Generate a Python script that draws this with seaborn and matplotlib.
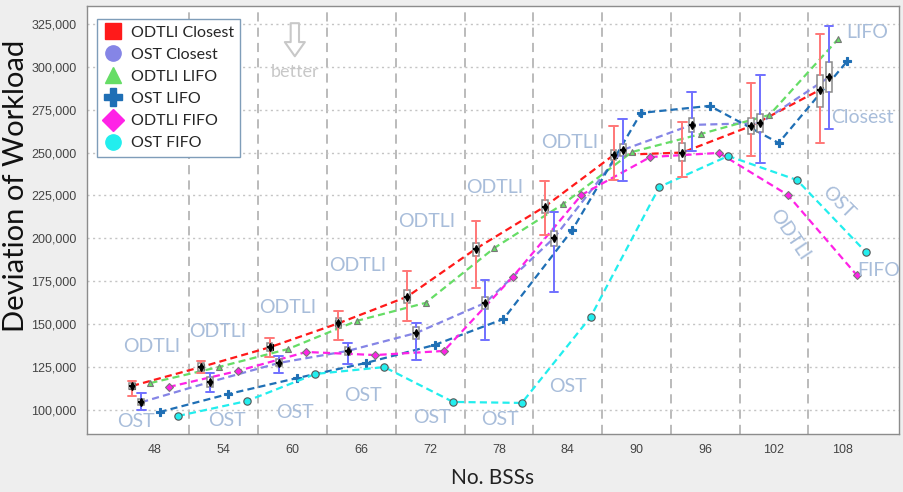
import numpy as np
import pandas as pd
import matplotlib.pyplot as plt
import seaborn as sns
from matplotlib.lines import Line2D

# number of BSSs (x categories)
bss = [48, 54, 60, 66, 72, 78, 84, 90, 96, 102, 108]
series = ["ODTLI Closest", "OST Closest", "ODTLI LIFO", "OST LIFO", "ODTLI FIFO", "OST FIFO"]

odtli_closest = [114000, 125000, 136500, 150500, 166000, 194000, 218500, 248500, 250000, 265500, 286500]
ost_closest = [104500, 116300, 127400, 134400, 144900, 162400, 200200, 251500, 266100, 267200, 294000]
odtli_lifo = [115700, 125100, 135500, 151900, 162400, 194400, 220000, 250300, 260800, 271900, 316200]
ost_lifo = [98800, 109300, 118600, 127400, 137900, 153000, 204900, 273100, 277200, 255600, 303400]
odtli_fifo = [113400, 122700, 133800, 132000, 134400, 177500, 225300, 247400, 249800, 225300, 178700]
ost_fifo = [96500, 105200, 121000, 125000, 104700, 104100, 154200, 230000, 248000, 234000, 192100]

# spread of the "Closest" runs (whisker ends and box quartiles)
odtli_closest_lo = [108200, 121600, 130900, 140800, 151900, 171100, 202000, 234000, 235800, 248000, 255600]
odtli_closest_hi = [116900, 128600, 142000, 157700, 181000, 210100, 233700, 265500, 267800, 290600, 319100]
odtli_closest_q1 = [112500, 123000, 134500, 148000, 162500, 190000, 214500, 245500, 245000, 261000, 276500]
odtli_closest_q3 = [116000, 127500, 139000, 153500, 170000, 197500, 222500, 251500, 255500, 270000, 295000]
ost_closest_lo = [100000, 110500, 121600, 126800, 129100, 140800, 168800, 233500, 250900, 243900, 263700]
ost_closest_hi = [109900, 121600, 131500, 139000, 150700, 175800, 215400, 269600, 285300, 295200, 323800]
ost_closest_q1 = [103000, 113500, 125500, 132000, 141500, 159000, 195500, 248000, 262000, 262000, 285500]
ost_closest_q3 = [106500, 119000, 129500, 136500, 148500, 166000, 204500, 255000, 270000, 272500, 303000]

values = [odtli_closest, ost_closest, odtli_lifo, ost_lifo, odtli_fifo, ost_fifo]
offsets = [-2.0, -1.2, -0.4, 0.4, 1.2, 2.0]
colors = ["#FF1A1A", "#8585E6", "#66DD66", "#1F6FB5", "#FF22E6", "#22EEEE"]
markers = ["s", "o", "^", "P", "D", "o"]

rows = []
for name, vals, off in zip(series, values, offsets):
    for b, v in zip(bss, vals):
        rows.append({"series": name, "pos": b + off, "value": v})
df = pd.DataFrame(rows)

sns.set_theme(style="white")
plt.rcParams["font.family"] = ["Lato", "DejaVu Sans"]

fig = plt.figure(figsize=(9.04, 4.92), dpi=100, facecolor="#EEEEEE")
ax = fig.add_axes([87 / 904, 58 / 492, 812 / 904, 428 / 492])
ax.set_facecolor("white")

sns.lineplot(
    data=df, x="pos", y="value", hue="series", style="series",
    hue_order=series, style_order=series,
    palette=dict(zip(series, colors)),
    markers=dict(zip(series, markers)),
    dashes={s: (3.2, 1.9) for s in series},
    linewidth=1.6, sort=False, legend=False, ax=ax,
)
msizes = [4, 4, 4.5, 6, 4.3, 5.3]
medges = ["black", "black", "#777777", "#1F6FB5", "#777777", "#555555"]
for line, ms, me in zip(ax.lines, msizes, medges):
    line.set_markersize(ms)
    line.set_markeredgecolor(me)
    line.set_markeredgewidth(0.8)

# small boxes + whiskers for the two "Closest" series
for vals, lo, hi, q1, q3, off, wc in [
    (odtli_closest, odtli_closest_lo, odtli_closest_hi, odtli_closest_q1, odtli_closest_q3, -2.0, "#FF7777"),
    (ost_closest, ost_closest_lo, ost_closest_hi, ost_closest_q1, ost_closest_q3, -1.2, "#7070FF"),
]:
    stats = [dict(med=v, q1=a, q3=b, whislo=l, whishi=h, fliers=[])
             for v, a, b, l, h in zip(vals, q1, q3, lo, hi)]
    pos = [b + off for b in bss]
    ax.bxp(stats, positions=pos, widths=0.5, capwidths=0.75, patch_artist=True,
           showfliers=False, manage_ticks=False, zorder=4,
           boxprops=dict(facecolor="white", edgecolor="#8A8A8A", linewidth=1.1),
           whiskerprops=dict(color=wc, linewidth=1.4),
           capprops=dict(color=wc, linewidth=1.4),
           medianprops=dict(color="black", linewidth=1.4))
    ax.plot(pos, vals, ls="none", marker="d", ms=4, color="black", zorder=5)

ax.set_xlim(42.07, 112.9)
ax.set_ylim(86000, 335400)
ax.set_xticks(bss)
ax.set_xticks([b + 3 for b in bss[:-1]], minor=True)
yt = list(range(100000, 325001, 25000))
ax.set_yticks(yt)
ax.set_yticklabels([f"{v:,}" for v in yt])
ax.tick_params(axis="both", which="major", length=4, width=0.8, color="#888888",
               labelsize=9, labelcolor="#444444", direction="out")
ax.tick_params(axis="x", which="minor", length=0)
for lab in ax.get_xticklabels() + ax.get_yticklabels():
    lab.set_fontfamily("Liberation Sans")
ax.grid(axis="y", which="major", color="#C4C4C4", linestyle=(0, (1.5, 2.5)), linewidth=1)
ax.grid(axis="x", which="minor", color="#A8A8A8", linestyle=(0, (6, 4)), linewidth=1.1)
ax.grid(axis="x", which="major", visible=False)
for sp in ax.spines.values():
    sp.set_color("#8C8C8C")
    sp.set_linewidth(1)

ax.set_xlabel("No. BSSs", fontsize=15, color="#222222")
ax.set_ylabel("Deviation of Workload", fontsize=21, color="#111111")
ax.xaxis.set_label_coords(0.5, -0.08)
ax.yaxis.set_label_coords(-0.072, 0.58)

# in-plot annotations
ann = "#A8BDDA"
for x, y in [(47.7, 136700), (53.5, 146000), (59.6, 160000), (65.7, 183900),
             (71.7, 209600), (77.6, 229400), (84.2, 255600)]:
    ax.text(x, y, "ODTLI", color=ann, fontsize=14, ha="center", va="center", zorder=1)
for x, y in [(46.3, 93000), (54.3, 93600), (60.2, 98800), (66.1, 108700),
             (72.2, 95900), (78.1, 94200), (84.0, 113400)]:
    ax.text(x, y, "OST", color=ann, fontsize=14, ha="center", va="center", zorder=1)
ax.text(103.4, 202000, "ODTLI", color=ann, fontsize=14, ha="center", va="center",
        rotation=-56, rotation_mode="anchor")
ax.text(107.6, 221200, "OST", color=ann, fontsize=14, ha="center", va="center",
        rotation=-45, rotation_mode="anchor")
ax.text(110.1, 319700, "LIFO", color=ann, fontsize=14, ha="center", va="center", clip_on=False)
ax.text(109.7, 270200, "Closest", color=ann, fontsize=14, ha="center", va="center", clip_on=False)
ax.text(111.1, 181000, "FIFO", color=ann, fontsize=14, ha="center", va="center", clip_on=False)

ax.text(60.2, 297000, "better", color="#C8C8C8", fontsize=13, ha="center", va="center")
ax.annotate("", xy=(60.2, 304500), xytext=(60.2, 327000),
            arrowprops=dict(arrowstyle="simple,head_length=0.85,head_width=1.2,tail_width=0.5",
                            fc="white", ec="#C8C8C8", lw=1.5))

handles = [Line2D([], [], ls="none", marker=m, ms=11 if m != "P" else 13, color=c, mec=c)
           for m, c in zip(markers, colors)]
leg = ax.legend(handles, series, loc="upper left", bbox_to_anchor=(0.0123, 0.9696),
                fontsize=11.5, frameon=True, fancybox=False, framealpha=1,
                edgecolor="#7F9DB9", labelspacing=0.5, handlelength=1.2,
                handletextpad=0.5, borderpad=0.4, borderaxespad=0)
leg.get_frame().set_linewidth(1)

fig.savefig("out.png", dpi=100, facecolor=fig.get_facecolor())
